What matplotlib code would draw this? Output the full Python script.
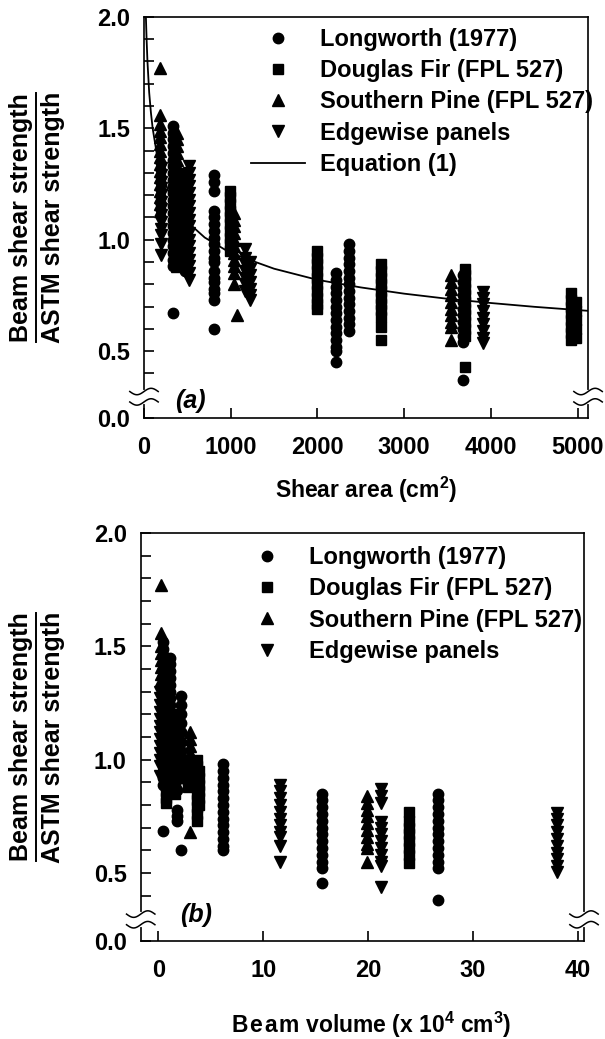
import numpy as np
import matplotlib.pyplot as plt

plt.rcParams['font.family'] = ['Liberation Sans', 'DejaVu Sans']
plt.rcParams['font.weight'] = 'bold'
plt.rcParams['axes.labelweight'] = 'bold'
plt.rcParams['mathtext.fontset'] = 'custom'
plt.rcParams['mathtext.rm'] = 'Liberation Sans:bold'
plt.rcParams['mathtext.it'] = 'Liberation Sans:italic:bold'
plt.rcParams['mathtext.bf'] = 'Liberation Sans:bold'
plt.rcParams['mathtext.default'] = 'rm'

# ---- data, panel (a): shear area (cm2) vs strength ratio; (x, [ratios]) per column
a_longworth = [
    (330, [1.51, 1.48, 1.45, 1.42, 1.39, 1.36, 1.33, 1.30, 1.27, 1.24, 1.21, 1.18, 1.15,
           1.12, 1.09, 1.06, 1.03, 1.00, 0.97, 0.94, 0.91, 0.88]),
    (337, [0.67]),
    (470, [1.27, 1.24, 1.21, 1.18, 1.15, 1.12, 1.09, 1.06, 1.03, 1.00, 0.97, 0.94, 0.91, 0.88, 0.86]),
    (805, [1.29, 1.26, 1.22, 1.13, 1.10, 1.07, 1.04, 1.01, 0.98, 0.95, 0.92, 0.90, 0.86,
           0.83, 0.81, 0.78, 0.76, 0.73, 0.60]),
    (2210, [0.85, 0.82, 0.79, 0.76, 0.73, 0.70, 0.67, 0.64, 0.61, 0.58, 0.55, 0.52, 0.50, 0.45]),
    (2365, [0.98, 0.95, 0.92, 0.89, 0.86, 0.83, 0.80, 0.77, 0.74, 0.71, 0.68, 0.65, 0.62, 0.59]),
    (3680, [0.84, 0.81, 0.78, 0.75, 0.72, 0.69, 0.66, 0.63, 0.60, 0.57, 0.54, 0.37]),
]
a_douglas = [
    (430, [1.30, 1.27, 1.24, 1.21, 1.18, 1.15, 1.12, 1.09, 1.06, 1.03, 1.00, 0.97, 0.94, 0.91]),
    (990, [1.22, 1.19, 1.16, 1.13, 1.10, 1.07, 1.04, 1.01, 0.98, 0.95]),
    (2000, [0.95, 0.92, 0.89, 0.86, 0.83, 0.80, 0.77, 0.74, 0.71, 0.69]),
    (2730, [0.89, 0.86, 0.83, 0.80, 0.77, 0.74, 0.71, 0.685, 0.655, 0.61, 0.55]),
    (3700, [0.87, 0.84, 0.81, 0.78, 0.75, 0.72, 0.69, 0.66, 0.63, 0.60, 0.57, 0.43]),
    (4920, [0.76, 0.73, 0.70, 0.67, 0.64, 0.61, 0.58, 0.55]),
    (4980, [0.72, 0.68, 0.64, 0.60, 0.56]),
]
a_pine = [
    (190, [1.77, 1.56, 1.52, 1.49, 1.46, 1.43, 1.40, 1.37, 1.34, 1.31, 1.28, 1.25, 1.22,
           1.19, 1.16, 1.13]),
    (380, [1.48, 1.45, 1.42, 1.39, 1.36, 1.33, 1.30, 1.27, 1.24, 1.21, 1.18, 1.15, 1.12,
           1.09, 1.06, 1.03, 1.00, 0.97, 0.94, 0.91, 0.88]),
    (1040, [1.12, 1.09, 1.06, 1.03, 1.00, 0.97, 0.94, 0.91, 0.88, 0.85, 0.80]),
    (1070, [0.66]),
    (3540, [0.84, 0.81, 0.78, 0.75, 0.72, 0.69, 0.66, 0.63, 0.61, 0.55]),
]
a_edgewise = [
    (195, [1.32, 1.29, 1.26, 1.23, 1.20, 1.17, 1.14, 1.11, 1.08, 1.05, 1.02, 0.98, 0.93]),
    (520, [1.33, 1.30, 1.27, 1.24, 1.21, 1.18, 1.15, 1.12, 1.09, 1.06, 1.03, 1.00, 0.97,
           0.94, 0.91, 0.88, 0.85, 0.82]),
    (1160, [0.96, 0.92, 0.89, 0.86, 0.83, 0.80, 0.77]),
    (1220, [0.90, 0.87, 0.84, 0.81, 0.78, 0.75, 0.73]),
    (3910, [0.765, 0.74, 0.71, 0.68, 0.65, 0.62, 0.59, 0.56, 0.535]),
]
# Equation (1)
eq_area = [22, 30, 40, 60, 80, 100, 150, 200, 300, 400, 500, 700, 1000, 1500, 2000,
           2500, 3000, 3500, 4000, 4500, 5120]
eq_ratio = [2.00, 1.90, 1.80, 1.66, 1.57, 1.50, 1.38, 1.30, 1.20, 1.13, 1.08, 1.01, 0.94,
            0.87, 0.82, 0.786, 0.758, 0.735, 0.716, 0.699, 0.681]

# ---- data, panel (b): beam volume (x 10^4 cm3)
b_longworth = [
    (0.4, [1.52, 1.49, 1.46, 1.43, 1.40, 1.37, 1.34, 1.31, 1.28, 1.25, 1.22, 1.19, 1.16,
           1.13, 1.10, 1.07, 1.04, 1.01, 0.98, 0.95, 0.92, 0.89]),
    (0.42, [0.685]),
    (1.1, [1.45, 1.42, 1.39, 1.36, 1.33, 1.30, 1.27, 1.24, 1.21, 1.18, 1.15, 1.12, 1.09,
           1.06, 1.03, 1.00, 0.97, 0.94, 0.91, 0.88]),
    (2.2, [1.28, 1.24, 1.20, 1.16, 1.12, 1.08, 1.04, 1.00, 0.96, 0.92, 0.60]),
    (1.8, [0.866, 0.78, 0.75, 0.73]),
    (6.2, [0.98, 0.95, 0.92, 0.89, 0.86, 0.83, 0.80, 0.77, 0.74, 0.71, 0.68, 0.65, 0.62, 0.60]),
    (15.6, [0.85, 0.82, 0.79, 0.76, 0.73, 0.70, 0.67, 0.64, 0.61, 0.58, 0.55, 0.52, 0.455]),
    (26.7, [0.85, 0.82, 0.79, 0.76, 0.73, 0.70, 0.67, 0.64, 0.61, 0.58, 0.55, 0.52, 0.38]),
]
b_douglas = [
    (0.7, [1.10, 1.07, 1.04, 1.01, 0.98, 0.95, 0.92, 0.89, 0.86, 0.83, 0.81]),
    (1.6, [1.20, 1.17, 1.14, 1.11, 1.08, 1.05, 1.02, 0.99, 0.96, 0.93, 0.90, 0.87, 0.85]),
    (2.8, [1.00, 0.97, 0.94, 0.91, 0.88]),
    (3.7, [1.00, 0.97, 0.94, 0.91, 0.88, 0.85, 0.82, 0.79, 0.76, 0.73]),
    (3.9, [0.95, 0.92, 0.89, 0.86, 0.83, 0.80]),
    (23.9, [0.77, 0.73, 0.70, 0.67, 0.64, 0.61, 0.58, 0.545]),
]
b_pine = [
    (0.3, [1.77, 1.56, 1.50, 1.47, 1.44, 1.41, 1.38, 1.35]),
    (3.0, [1.12, 1.09, 1.06, 1.03, 0.68]),
    (19.9, [0.84, 0.81, 0.78, 0.75, 0.72, 0.69, 0.66, 0.63, 0.61, 0.55]),
]
b_edgewise = [
    (0.2, [1.30, 1.27, 1.24, 1.21, 1.18, 1.15, 1.12, 1.09, 1.06, 1.03, 1.00, 0.97, 0.93]),
    (11.6, [0.89, 0.86, 0.83, 0.80, 0.77, 0.74, 0.71, 0.68, 0.66, 0.62, 0.55]),
    (21.2, [0.87, 0.84, 0.81, 0.725, 0.70, 0.67, 0.64, 0.61, 0.58, 0.55, 0.53, 0.44]),
    (38.0, [0.765, 0.74, 0.71, 0.68, 0.65, 0.62, 0.59, 0.56, 0.53, 0.505]),
]

labels = ['Longworth (1977)', 'Douglas Fir (FPL 527)', 'Southern Pine (FPL 527)',
          'Edgewise panels']
ytick_pos = [0.2, 0.5, 1.0, 1.5, 2.0]
ytick_lab = ['0.0', '0.5', '1.0', '1.5', '2.0']
ytick_minor = [0.4, 0.6, 0.7, 0.8, 0.9, 1.1, 1.2, 1.3, 1.4, 1.6, 1.7, 1.8, 1.9]


def expand(cols):
    xs, ys = [], []
    for x, vals in cols:
        xs += [x] * len(vals)
        ys += vals
    return xs, ys


def draw_series(ax, groups):
    marks = [('o', 7.5), ('s', 7.0), ('^', 8.0), ('v', 8.0)]
    for cols, (m, ms), lab in zip(groups, marks, labels):
        x, y = expand(cols)
        ax.plot(x, y, m, ms=ms, color='black', mec='black', linestyle='none', label=lab)


def style_axis(ax, xlim, xticks):
    ax.set_xlim(*xlim)
    ax.set_ylim(0.2, 2.0)
    ax.set_xticks(xticks)
    ax.set_yticks(ytick_pos)
    ax.set_yticklabels(ytick_lab)
    ax.set_yticks(ytick_minor, minor=True)
    ax.tick_params(axis='both', which='both', direction='in', length=7, width=1.2,
                   labelsize=17, top=False, right=False)
    ax.tick_params(axis='y', pad=10)
    ax.tick_params(axis='x', pad=13)
    for s in ax.spines.values():
        s.set_linewidth(1.2)
    # axis-break marks on both vertical spines
    t = np.linspace(-1, 1, 40)
    for xf in (0.0, 1.0):
        ax.plot([xf, xf], [0.040, 0.066], color='white', lw=3, transform=ax.transAxes,
                clip_on=False, zorder=5)
        for yf in (0.040, 0.066):
            ax.plot(xf + 0.032 * t, yf + 0.008 * np.sin(np.pi * t), color='black', lw=1.1,
                    transform=ax.transAxes, clip_on=False, zorder=6)


def add_legend(ax, x0, y0):
    ax.legend(loc='upper left', bbox_to_anchor=(x0, y0), frameon=False, fontsize=17,
              handlelength=2.3, handletextpad=0.64, labelspacing=0.35, borderpad=0,
              borderaxespad=0, numpoints=1)


fig = plt.figure(figsize=(6.05, 10.39), dpi=100)
ax_a = fig.add_axes([0.238, 0.5977, 0.734, 0.386])
ax_b = fig.add_axes([0.2326, 0.0943, 0.7327, 0.3927])

draw_series(ax_a, [a_longworth, a_douglas, a_pine, a_edgewise])
ax_a.plot(eq_area, eq_ratio, '-', color='black', lw=1.3, label='Equation (1)')
style_axis(ax_a, (0, 5120), [0, 1000, 2000, 3000, 4000, 5000])
ax_a.set_xlabel('Shear area (cm$^2$)', fontsize=16.5)
ax_a.xaxis.set_label_coords(0.5, -0.142)
add_legend(ax_a, 0.241, 0.973)
ax_a.text(0.104, 0.0425, '(a)', transform=ax_a.transAxes, fontsize=18, style='italic',
          ha='center', va='center')

draw_series(ax_b, [b_longworth, b_douglas, b_pine, b_edgewise])
style_axis(ax_b, (-1.68, 40.6), [0, 10, 20, 30, 40])
ax_b.set_xlabel('B\u200ae\u200aa\u200am volume (x 10$^4$ cm$^3$)', fontsize=16.5)
ax_b.xaxis.set_label_coords(0.52, -0.168)
add_legend(ax_b, 0.224, 0.968)
ax_b.text(0.125, 0.064, '(b)', transform=ax_b.transAxes, fontsize=18, style='italic',
          ha='center', va='center')

# two-line y label with the top line underlined
fig.canvas.draw()
renderer = fig.canvas.get_renderer()
W, H = fig.bbox.width, fig.bbox.height
for ax in (ax_a, ax_b):
    pos = ax.get_position()
    yc = (pos.y0 + pos.y1) / 2
    t1 = fig.text(21 / W, yc, 'Beam shear strength', rotation=90, fontsize=18,
                  ha='center', va='center')
    fig.text(53 / W, yc, 'ASTM shear strength', rotation=90, fontsize=18,
             ha='center', va='center')
    bb = t1.get_window_extent(renderer)
    fig.add_artist(plt.Line2D([36 / W, 36 / W], [bb.y0 / H, bb.y1 / H], color='black',
                              lw=1.4, transform=fig.transFigure))

fig.savefig('out.png', dpi=100)
